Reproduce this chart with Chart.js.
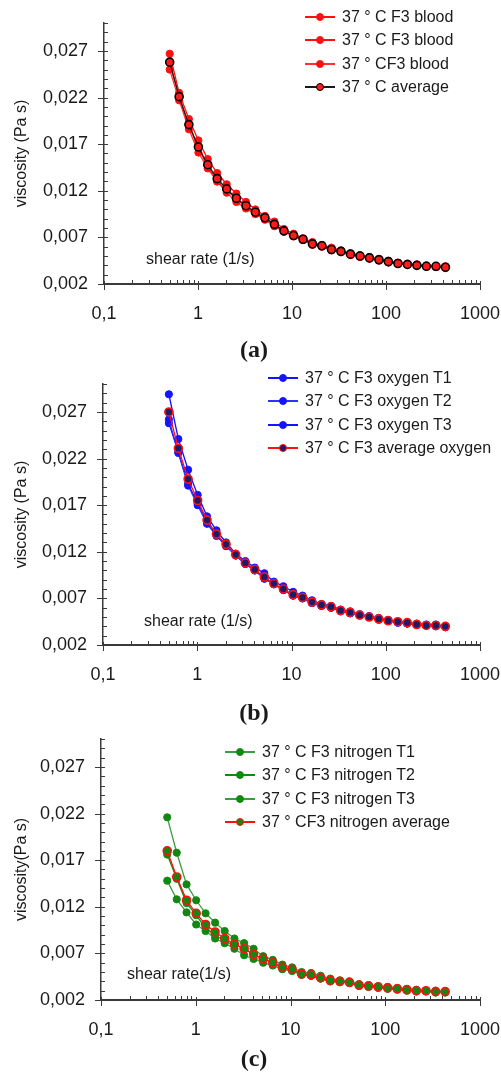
<!DOCTYPE html>
<html>
<head>
<meta charset="utf-8">
<script src="https://cdn.jsdelivr.net/npm/chart.js@4/dist/chart.umd.min.js"></script>
<style>
  body { margin: 0; background: #fff; width: 501px; height: 1073px; position: relative; overflow: hidden;
         font-family: "Liberation Sans", Arial, sans-serif; color: #1a1a1a; }
  .panel { position: absolute; left: 0; width: 501px; height: 335px; }
  .legend { position: absolute; font-size: 16px; }
  .legend .row { height: 23.5px; display: flex; align-items: center; white-space: nowrap; }
  .legend .sw { position: relative; width: 30px; height: 12px; margin-right: 7px; }
  .legend .ln { position: absolute; left: 0; right: 0; top: 5px; height: 2px; }
  .legend .dot { position: absolute; left: 11px; top: 2px; width: 8px; height: 8px; border-radius: 50%; box-sizing: border-box; }
  .xtitle { position: absolute; font-size: 16px; white-space: nowrap; }
  .tag { position: absolute; font-family: "Liberation Serif", "Times New Roman", serif; font-weight: bold;
         font-size: 24px; transform: translate(-50%, -50%); }
</style>
</head>
<body>

<canvas id="chartA" class="panel" width="501" height="335" style="top:0px"></canvas>
<canvas id="chartB" class="panel" width="501" height="335" style="top:361px"></canvas>
<canvas id="chartC" class="panel" width="501" height="335" style="top:716px"></canvas>

<div class="xtitle" style="left:146px;top:250px">shear rate (1/s)</div>
<div class="xtitle" style="left:144px;top:612px">shear rate (1/s)</div>
<div class="xtitle" style="left:127px;top:965px">shear rate(1/s)</div>

<div id="legendA" class="legend" style="left:305px;top:5px"></div>
<div id="legendB" class="legend" style="left:268px;top:366px"></div>
<div id="legendC" class="legend" style="left:225px;top:740px"></div>

<div class="tag" style="left:254px;top:349px">(a)</div>
<div class="tag" style="left:254px;top:712px">(b)</div>
<div class="tag" style="left:254px;top:1058px">(c)</div>

<script>
// shear rate (1/s), same steps for all three panels
const shearRate = [0.5, 0.63, 0.8, 1.01, 1.27, 1.6, 2.02, 2.56, 3.24, 4.08, 5.15, 6.5, 8.2, 10.4, 13.1,
                   16.5, 20.8, 26.3, 33.2, 41.9, 52.9, 66.7, 84.2, 106, 134, 169, 213, 269, 340, 429];

// axis ticks
const xTicks = [0.1, 1, 10, 100, 1000];
const yTicks = [0.002, 0.007, 0.012, 0.017, 0.022, 0.027];

// (a) blood
const bloodT1 = [0.0267, 0.0225, 0.0197, 0.0174, 0.0154, 0.0139, 0.0127, 0.0117, 0.0108, 0.0100, 0.0093, 0.0087, 0.0079, 0.0074, 0.0069,
                 0.0065, 0.0062, 0.0059, 0.0056, 0.0053, 0.0051, 0.0049, 0.0047, 0.0045, 0.0043, 0.0042, 0.0041, 0.0040, 0.0039, 0.0039];
const bloodT2 = [0.0257, 0.0221, 0.0190, 0.0166, 0.0146, 0.0130, 0.0121, 0.0111, 0.0103, 0.0096, 0.0091, 0.0083, 0.0077, 0.0072, 0.0068,
                 0.0063, 0.0061, 0.0057, 0.0055, 0.0052, 0.0050, 0.0048, 0.0046, 0.0044, 0.0042, 0.0041, 0.0040, 0.0039, 0.0039, 0.0038];
const bloodT3 = [0.0250, 0.0217, 0.0186, 0.0161, 0.0144, 0.0130, 0.0118, 0.0108, 0.0101, 0.0095, 0.0089, 0.0082, 0.0076, 0.0071, 0.0067,
                 0.0062, 0.0060, 0.0056, 0.0054, 0.0051, 0.0049, 0.0047, 0.0045, 0.0043, 0.0042, 0.0041, 0.0040, 0.0039, 0.0038, 0.0037];
const bloodAvg = [0.0258, 0.0221, 0.0191, 0.0167, 0.0148, 0.0133, 0.0122, 0.0112, 0.0104, 0.0097, 0.0091, 0.0084, 0.0077, 0.0072, 0.0068,
                  0.0063, 0.0061, 0.0057, 0.0055, 0.0052, 0.0050, 0.0048, 0.0046, 0.0044, 0.0042, 0.0041, 0.0040, 0.0039, 0.0039, 0.0038];

// (b) oxygen
const oxyT1 = [0.0289, 0.0241, 0.0208, 0.0181, 0.0158, 0.0143, 0.0130, 0.0118, 0.0110, 0.0103, 0.0097, 0.0088, 0.0083, 0.0077, 0.0073,
               0.0068, 0.0064, 0.0062, 0.0058, 0.0056, 0.0053, 0.0051, 0.0049, 0.0047, 0.0045, 0.0044, 0.0043, 0.0042, 0.0042, 0.0040];
const oxyT2 = [0.0262, 0.0226, 0.0191, 0.0170, 0.0150, 0.0137, 0.0126, 0.0116, 0.0107, 0.0100, 0.0091, 0.0085, 0.0079, 0.0073, 0.0070,
               0.0065, 0.0062, 0.0060, 0.0057, 0.0054, 0.0052, 0.0050, 0.0048, 0.0046, 0.0044, 0.0043, 0.0042, 0.0041, 0.0041, 0.0040];
const oxyT3 = [0.0258, 0.0227, 0.0193, 0.0172, 0.0152, 0.0138, 0.0127, 0.0116, 0.0107, 0.0100, 0.0092, 0.0086, 0.0079, 0.0073, 0.0070,
               0.0065, 0.0062, 0.0060, 0.0056, 0.0054, 0.0052, 0.0050, 0.0047, 0.0046, 0.0044, 0.0043, 0.0042, 0.0041, 0.0040, 0.0039];
const oxyAvg = [0.0270, 0.0231, 0.0198, 0.0175, 0.0154, 0.0139, 0.0128, 0.0117, 0.0108, 0.0101, 0.0093, 0.0086, 0.0080, 0.0074, 0.0071,
                0.0066, 0.0063, 0.0061, 0.0057, 0.0055, 0.0052, 0.0050, 0.0048, 0.0046, 0.0045, 0.0044, 0.0042, 0.0041, 0.0041, 0.0040];

// (c) nitrogen
const nitT1 = [0.0216, 0.0178, 0.0144, 0.0127, 0.0113, 0.0103, 0.0094, 0.0086, 0.0081, 0.0075, 0.0067, 0.0063, 0.0058, 0.0055, 0.0050,
               0.0049, 0.0046, 0.0043, 0.0041, 0.0040, 0.0037, 0.0036, 0.0035, 0.0034, 0.0033, 0.0032, 0.0031, 0.0030, 0.0030, 0.0029];
const nitT2 = [0.0176, 0.0150, 0.0124, 0.0111, 0.0097, 0.0090, 0.0083, 0.0079, 0.0076, 0.0068, 0.0065, 0.0060, 0.0054, 0.0053, 0.0047,
               0.0046, 0.0043, 0.0040, 0.0040, 0.0039, 0.0036, 0.0035, 0.0034, 0.0033, 0.0032, 0.0031, 0.0030, 0.0030, 0.0029, 0.0029];
const nitT3 = [0.0148, 0.0128, 0.0114, 0.0101, 0.0094, 0.0086, 0.0081, 0.0075, 0.0068, 0.0064, 0.0060, 0.0057, 0.0053, 0.0051, 0.0047,
               0.0046, 0.0043, 0.0040, 0.0039, 0.0038, 0.0035, 0.0034, 0.0033, 0.0032, 0.0031, 0.0030, 0.0029, 0.0029, 0.0028, 0.0028];
const nitAvg = [0.0180, 0.0152, 0.0127, 0.0113, 0.0101, 0.0093, 0.0086, 0.0080, 0.0075, 0.0069, 0.0064, 0.0060, 0.0055, 0.0053, 0.0048,
                0.0047, 0.0044, 0.0041, 0.0040, 0.0039, 0.0036, 0.0035, 0.0034, 0.0033, 0.0032, 0.0031, 0.0030, 0.0030, 0.0029, 0.0029];

const FONT = '"Liberation Sans", Arial, sans-serif';
const AXIS = '#3a3a3a';

// small outward major ticks and inward minor ticks, like the original spreadsheet axes
const axisTicks = {
  id: 'axisTicks',
  afterDraw(chart) {
    const { ctx, chartArea: a, scales: { x, y } } = chart;
    ctx.save();
    ctx.strokeStyle = AXIS;
    ctx.lineWidth = 1;
    ctx.beginPath();
    for (let k = 2; k <= 30; k++) {
      const py = Math.round(y.getPixelForValue(k / 1000)) + 0.5;
      ctx.moveTo(a.left, py); ctx.lineTo(a.left + 4, py);
    }
    yTicks.forEach(v => {
      const py = Math.round(y.getPixelForValue(v)) + 0.5;
      ctx.moveTo(a.left - 6, py); ctx.lineTo(a.left, py);
    });
    for (let d = 0.1; d < 1000; d *= 10) {
      for (let m = 2; m <= 9; m++) {
        const px = Math.round(x.getPixelForValue(d * m)) + 0.5;
        ctx.moveTo(px, a.bottom); ctx.lineTo(px, a.bottom - 4);
      }
    }
    xTicks.forEach(v => {
      const px = Math.round(x.getPixelForValue(v)) + 0.5;
      ctx.moveTo(px, a.bottom - 3); ctx.lineTo(px, a.bottom + 6);
    });
    ctx.stroke();
    ctx.restore();
  }
};

function series(label, values, line, fill, edge, isAvg) {
  return {
    label: label,
    data: shearRate.map((x, i) => ({ x: x, y: values[i] })),
    borderColor: line,
    borderWidth: 1.3,
    pointRadius: isAvg ? 4 : 3.6,
    pointBackgroundColor: fill,
    pointBorderColor: edge,
    pointBorderWidth: isAvg ? 1.6 : 1,
    tension: 0,
    order: isAvg ? 0 : 1
  };
}

function makeChart(id, datasets, axisLeft, yTitle) {
  return new Chart(document.getElementById(id), {
    type: 'line',
    data: { datasets: datasets },
    options: {
      responsive: false,
      animation: false,
      layout: { padding: { top: 23, right: 0, left: 0, bottom: 0 } },
      plugins: { legend: { display: false }, tooltip: { enabled: false } },
      scales: {
        x: {
          type: 'logarithmic',
          min: 0.1,
          max: 1000,
          grid: { display: false, drawTicks: false },
          border: { display: true, color: AXIS, width: 2 },
          afterBuildTicks: s => { s.ticks = xTicks.map(v => ({ value: v })); },
          // tick padding otherwise gets added to the side margins too
          afterFit: s => { s.height = 51; s.paddingLeft = 0; s.paddingRight = 21; },
          ticks: {
            font: { size: 18, family: FONT },
            color: '#1a1a1a',
            padding: 19,
            maxRotation: 0,
            autoSkip: false,
            callback: v => String(v).replace('.', ',')
          }
        },
        y: {
          type: 'linear',
          min: 0.002,
          max: 0.030,
          grid: { display: false, drawTicks: false },
          border: { display: true, color: AXIS, width: 1.5 },
          afterBuildTicks: s => { s.ticks = yTicks.map(v => ({ value: v })); },
          afterFit: s => { s.width = axisLeft; s.paddingTop = 0; s.paddingBottom = 0; },
          ticks: {
            font: { size: 18, family: FONT },
            color: '#1a1a1a',
            padding: 16,
            callback: v => v.toFixed(3).replace('.', ',')
          },
          title: {
            display: true,
            text: yTitle,
            color: '#1a1a1a',
            font: { size: 16, family: FONT },
            padding: { top: 12, bottom: 0 }
          }
        }
      }
    },
    plugins: [axisTicks]
  });
}

function buildLegend(chart, el) {
  chart.data.datasets.forEach(ds => {
    const row = document.createElement('div');
    row.className = 'row';
    row.innerHTML =
      '<div class="sw"><div class="ln" style="background:' + ds.borderColor + '"></div>' +
      '<div class="dot" style="background:' + ds.pointBackgroundColor + ';border:' + (ds.pointBorderWidth) + 'px solid ' + ds.pointBorderColor + '"></div></div>' +
      '<span></span>';
    row.querySelector('span').textContent = ds.label;
    el.appendChild(row);
  });
}

const chartA = makeChart('chartA', [
  series('37 ° C F3 blood', bloodT1, '#ff1010', '#ff1010', '#ff1010', false),
  series('37 ° C F3 blood', bloodT2, '#ff1010', '#ff1010', '#ff1010', false),
  series('37 ° CF3 blood', bloodT3, '#ff3030', '#ff1010', '#ff1010', false),
  series('37 ° C average', bloodAvg, '#1a1a1a', '#ff1a1a', '#000000', true)
], 104, 'viscosity (Pa s)');

const chartB = makeChart('chartB', [
  series('37 ° C F3 oxygen T1', oxyT1, '#1414ff', '#1414ff', '#1414ff', false),
  series('37 ° C F3 oxygen T2', oxyT2, '#3030ff', '#1414ff', '#1414ff', false),
  series('37 ° C F3 oxygen T3', oxyT3, '#1414ff', '#1414ff', '#1414ff', false),
  series('37 ° C F3 average oxygen', oxyAvg, '#ff1010', '#1c1c66', '#ff1010', true)
], 103, 'viscosity (Pa s)');

const chartC = makeChart('chartC', [
  series('37 ° C F3 nitrogen T1', nitT1, '#3d9c3d', '#128812', '#128812', false),
  series('37 ° C F3 nitrogen T2', nitT2, '#118a11', '#128812', '#128812', false),
  series('37 ° C F3 nitrogen T3', nitT3, '#3d9c3d', '#128812', '#128812', false),
  series('37 ° CF3 nitrogen average', nitAvg, '#ff1010', '#128812', '#ff1010', true)
], 101, 'viscosity(Pa s)');

buildLegend(chartA, document.getElementById('legendA'));
buildLegend(chartB, document.getElementById('legendB'));
buildLegend(chartC, document.getElementById('legendC'));
</script>
</body>
</html>
